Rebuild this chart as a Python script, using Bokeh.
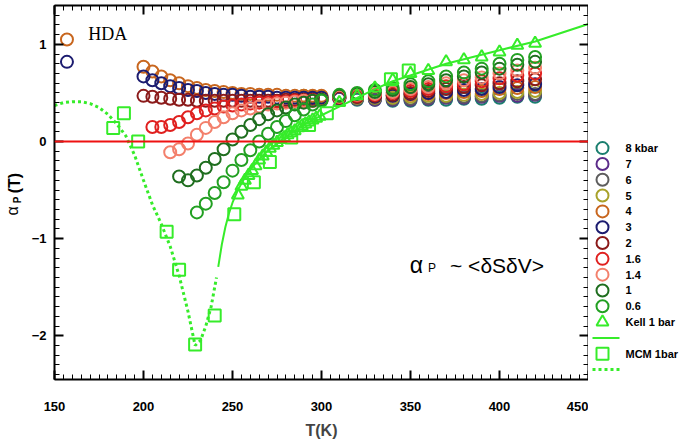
import math
from bokeh.plotting import figure
from bokeh.layouts import row
from bokeh.models import (Span, Label, LinearAxis, SingleIntervalTicker, Range1d,
                          CustomLabelingPolicy)
from bokeh.core.properties import value
from bokeh.embed import file_html
from bokeh.resources import INLINE

# ---------------- data ----------------
T_hi = [310, 320, 330, 340, 350, 360, 370, 380, 390, 400, 410, 420]

series = [
    # label, color, T list, alpha list
    ("8 kbar", "#1b7f6f", [290, 295, 300] + T_hi,
     [0.45, 0.45, 0.44, 0.44, 0.43, 0.43, 0.42, 0.42, 0.43, 0.43, 0.44, 0.44, 0.45, 0.46, 0.46]),
    ("7", "#5c2c8a", [290, 295, 300] + T_hi,
     [0.46, 0.45, 0.45, 0.44, 0.44, 0.43, 0.43, 0.43, 0.44, 0.45, 0.45, 0.46, 0.47, 0.47, 0.48]),
    ("6", "#5d5d5d", [290, 295, 300] + T_hi,
     [0.46, 0.46, 0.45, 0.45, 0.44, 0.44, 0.44, 0.44, 0.45, 0.46, 0.46, 0.47, 0.48, 0.49, 0.49]),
    ("5", "#a8a22a", [290, 295, 300] + T_hi,
     [0.47, 0.46, 0.46, 0.45, 0.45, 0.45, 0.45, 0.46, 0.47, 0.47, 0.48, 0.49, 0.50, 0.51, 0.52]),
    ("4", "#c8661e", [157, 200, 205, 210, 215, 220, 225, 230, 235, 240, 245, 250, 255, 260, 265,
                      270, 275, 280, 285, 290, 295, 300] + T_hi,
     [1.05, 0.77, 0.72, 0.67, 0.63, 0.60, 0.57, 0.55, 0.53, 0.52, 0.51, 0.50, 0.49, 0.49, 0.48,
      0.48, 0.48, 0.47, 0.47, 0.47, 0.47, 0.47,
      0.46, 0.46, 0.46, 0.47, 0.48, 0.49, 0.50, 0.51, 0.52, 0.54, 0.55, 0.56]),
    ("3", "#1c1c70", [157, 200, 205, 210, 215, 220, 225, 230, 235, 240, 245, 250, 255, 260, 265,
                      270, 275, 280, 285, 290, 295, 300] + T_hi,
     [0.82, 0.67, 0.63, 0.60, 0.57, 0.55, 0.53, 0.52, 0.50, 0.49, 0.48, 0.48, 0.47, 0.46, 0.46,
      0.46, 0.45, 0.45, 0.45, 0.45, 0.45, 0.45,
      0.45, 0.46, 0.46, 0.47, 0.49, 0.50, 0.51, 0.53, 0.54, 0.56, 0.58, 0.59]),
    ("2", "#8b1a1a", [200, 205, 210, 215, 220, 225, 230, 235, 240, 245, 250, 255, 260, 265,
                      270, 275, 280, 285, 290, 295, 300] + T_hi,
     [0.47, 0.46, 0.45, 0.44, 0.43, 0.43, 0.42, 0.42, 0.42, 0.42, 0.42, 0.42, 0.42, 0.42,
      0.42, 0.42, 0.43, 0.43, 0.43, 0.43, 0.43,
      0.45, 0.46, 0.47, 0.48, 0.50, 0.52, 0.54, 0.56, 0.58, 0.60, 0.62, 0.64]),
    ("1.6", "#e0201f", [205, 210, 215, 220, 225, 230, 235, 240, 245, 250, 255, 260, 265,
                        270, 275, 280, 285, 290, 295, 300] + T_hi,
     [0.15, 0.15, 0.17, 0.20, 0.25, 0.29, 0.32, 0.34, 0.36, 0.37, 0.38, 0.39, 0.40,
      0.40, 0.41, 0.41, 0.42, 0.42, 0.42, 0.43,
      0.46, 0.47, 0.48, 0.50, 0.52, 0.54, 0.57, 0.59, 0.62, 0.65, 0.68, 0.70]),
    ("1.4", "#f3806c", [215, 220, 225, 230, 235, 240, 245, 250, 255, 260, 265,
                        270, 275, 280, 285, 290, 295, 300] + T_hi,
     [-0.11, -0.08, -0.02, 0.07, 0.14, 0.20, 0.25, 0.29, 0.32, 0.34, 0.36,
      0.38, 0.39, 0.40, 0.41, 0.42, 0.42, 0.43,
      0.46, 0.48, 0.49, 0.51, 0.54, 0.56, 0.60, 0.63, 0.66, 0.70, 0.73, 0.76]),
    ("1", "#1f6e1f", [220, 225, 230, 235, 240, 245, 250, 255, 260, 265,
                      270, 275, 280, 285, 290, 295, 300] + T_hi,
     [-0.36, -0.40, -0.35, -0.27, -0.18, -0.08, 0.02, 0.10, 0.17, 0.23,
      0.28, 0.32, 0.35, 0.38, 0.40, 0.42, 0.43,
      0.47, 0.49, 0.51, 0.53, 0.56, 0.59, 0.63, 0.67, 0.71, 0.75, 0.79, 0.82]),
    ("0.6", "#22a022", [230, 235, 240, 245, 250, 255, 260, 265,
                        270, 275, 280, 285, 290, 295, 300] + T_hi,
     [-0.73, -0.64, -0.53, -0.42, -0.30, -0.19, -0.09, 0.00,
      0.08, 0.15, 0.21, 0.27, 0.33, 0.38, 0.42,
      0.48, 0.50, 0.53, 0.55, 0.59, 0.62, 0.67, 0.71, 0.75, 0.80, 0.84, 0.87]),
]

kell_T = [253, 255, 257, 259, 261, 263, 265, 267, 269, 271, 273, 275, 277, 279, 281, 283,
          285, 287, 289, 291, 293, 295, 297, 299] + T_hi
kell_a = [-0.55, -0.46, -0.40, -0.35, -0.30, -0.25, -0.19, -0.15, -0.11, -0.07, -0.04, -0.01,
          0.02, 0.04, 0.07, 0.09, 0.11, 0.14, 0.16, 0.18, 0.20, 0.22, 0.24, 0.26,
          0.40, 0.47, 0.55, 0.63, 0.70, 0.73, 0.82, 0.84, 0.87, 0.92, 0.99, 1.01]

kell_fit_T = [242, 244, 246, 248, 250, 253, 256, 260, 265, 270, 275, 280, 285, 290, 300,
              310, 320, 330, 340, 355, 370, 385, 400, 420, 450]
kell_fit_a = [-1.29, -1.06, -0.88, -0.74, -0.63, -0.50, -0.40, -0.29, -0.18, -0.09, -0.02,
              0.05, 0.11, 0.17, 0.27, 0.36, 0.45, 0.54, 0.62, 0.71, 0.80, 0.87, 0.94, 1.03, 1.21]

mcm_T = [183, 189, 197, 213, 220, 229, 240, 251, 262, 271, 283, 293, 303, 339, 349]
mcm_a = [0.14, 0.29, 0.00, -0.93, -1.32, -2.09, -1.79, -0.75, -0.42, -0.21, 0.04, 0.17,
         0.29, 0.64, 0.73]

mcm_fit_T = [150, 155, 160, 165, 170, 175, 180, 185, 190, 195, 200, 205, 210, 215, 220,
             225, 229, 232, 235, 238, 241]
mcm_fit_a = [0.37, 0.40, 0.41, 0.41, 0.39, 0.35, 0.28, 0.18, 0.06, -0.14, -0.40, -0.65,
             -0.85, -1.08, -1.38, -1.75, -2.10, -2.05, -1.90, -1.70, -1.40]

legend_extra = ["Kell 1 bar", "", "MCM 1bar", ""]
ylabel_parts = ["α", "P", "(T)"]
note_parts = ["α", "P", "~ <δSδV>"]

KELL_COLOR = "#36ec2a"
FONT = "Liberation Sans"
TOTAL_H = 441
TOP_B, BOT_B = 5, 61
LW, MW = 26, 562
RW = 685 - LW - MW

# ---------------- main figure ----------------
p = figure(width=MW, height=TOTAL_H, x_range=Range1d(150, 450), y_range=Range1d(-2.45, 1.40),
           output_backend="svg", toolbar_location=None,
           min_border_left=28, min_border_right=0, min_border_top=TOP_B,
           min_border_bottom=BOT_B)
p.xgrid.visible = False
p.ygrid.visible = False
p.outline_line_color = None

p.xaxis.ticker = SingleIntervalTicker(interval=50, num_minor_ticks=10)
p.yaxis.ticker = SingleIntervalTicker(interval=1, num_minor_ticks=10)

no_labels = CustomLabelingPolicy(code="return new Set()")


def style_axis(ax, show_labels):
    ax.axis_line_width = 2
    ax.axis_line_color = "black"
    ax.major_tick_in = 9
    ax.major_tick_out = 0
    ax.minor_tick_in = 5
    ax.minor_tick_out = 0
    ax.major_tick_line_width = 2
    ax.minor_tick_line_width = 1
    ax.major_tick_line_color = "black"
    ax.minor_tick_line_color = "black"
    if show_labels:
        ax.major_label_text_font = FONT
        ax.major_label_text_font_style = "bold"
        ax.major_label_text_font_size = "13px"
        ax.major_label_text_color = "black"
    else:
        ax.major_label_text_font_size = "0px"
        ax.major_label_standoff = 0
        ax.major_label_policy = no_labels


style_axis(p.xaxis[0], True)
style_axis(p.yaxis[0], True)
p.xaxis.major_label_standoff = 22
p.yaxis.major_label_standoff = 8
p.xaxis.axis_label = "T(K)"
p.xaxis.axis_label_text_font = FONT
p.xaxis.axis_label_text_font_style = "bold"
p.xaxis.axis_label_text_font_size = "16px"
p.xaxis.axis_label_standoff = 8

top_ax = LinearAxis(ticker=SingleIntervalTicker(interval=50, num_minor_ticks=10))
style_axis(top_ax, False)
p.add_layout(top_ax, "above")
right_ax = LinearAxis(ticker=SingleIntervalTicker(interval=1, num_minor_ticks=10))
style_axis(right_ax, False)
p.add_layout(right_ax, "right")

p.add_layout(Span(location=0, dimension="width", line_color="#ee1111", line_width=2))

for label, color, T, a in series:
    p.scatter(T, a, marker="circle", size=12, fill_color=None, line_color=color, line_width=2)

p.line(kell_fit_T, kell_fit_a, line_color=KELL_COLOR, line_width=2)
p.scatter(kell_T, kell_a, marker="triangle", size=12, fill_color=None,
          line_color=KELL_COLOR, line_width=2)
p.line(mcm_fit_T, mcm_fit_a, line_color=KELL_COLOR, line_width=3, line_dash="3 3")
p.scatter(mcm_T, mcm_a, marker="square", size=12, fill_color=None,
          line_color=KELL_COLOR, line_width=2)

p.add_layout(Label(x=169, y=1.11, text="HDA", text_font="Liberation Serif",
                   text_font_size="18px", text_align="left", text_baseline="middle",
                   text_color="black"))
p.add_layout(Label(x=349.6, y=-1.269, text=note_parts[0], text_font=FONT,
                   text_font_size="23px", text_align="left", text_baseline="alphabetic",
                   text_color="black"))
p.add_layout(Label(x=359.8, y=-1.30, text=note_parts[1], text_font=FONT,
                   text_font_size="12px", text_align="left", text_baseline="alphabetic",
                   text_color="black"))
p.add_layout(Label(x=372.2, y=-1.279, text=note_parts[2], text_font=FONT,
                   text_font_size="21px", text_align="left", text_baseline="alphabetic",
                   text_color="black"))

# ---------------- y label strip (left), y in page pixels ----------------
py = figure(width=LW, height=TOTAL_H, x_range=Range1d(0, LW),
            y_range=Range1d(TOTAL_H - BOT_B, TOP_B),
            output_backend="svg", toolbar_location=None, x_axis_type=None, y_axis_type=None,
            min_border_left=0, min_border_right=0, min_border_top=TOP_B,
            min_border_bottom=BOT_B)
py.outline_line_color = None
py.grid.visible = False
py.text(x=[12], y=[211], text=ylabel_parts[:1], angle=math.pi / 2,
        text_font=value(FONT), text_font_size="16px",
        text_align="center", text_baseline="middle", text_color="black")
py.text(x=[17], y=[200], text=ylabel_parts[1:2], angle=math.pi / 2,
        text_font=value(FONT), text_font_size="10px", text_font_style="bold",
        text_align="center", text_baseline="middle", text_color="black")
py.text(x=[14], y=[183], text=ylabel_parts[2:], angle=math.pi / 2,
        text_font=value(FONT), text_font_size="16px", text_font_style="bold",
        text_align="center", text_baseline="middle", text_color="black")

# ---------------- legend strip (right), y in page pixels ----------------
legend_labels = [s[0] for s in series] + legend_extra
n_rows = len(legend_labels)
row_top, row_step = 148, 15.86
row_y = [row_top + row_step * i for i in range(n_rows)]
pl = figure(width=RW, height=TOTAL_H, x_range=Range1d(0, RW),
            y_range=Range1d(TOTAL_H - BOT_B, TOP_B),
            output_backend="svg", toolbar_location=None, x_axis_type=None, y_axis_type=None,
            min_border_left=0, min_border_right=0, min_border_top=TOP_B,
            min_border_bottom=BOT_B)
pl.outline_line_color = None
pl.grid.visible = False
n_ser = len(series)
MX = 14
pl.scatter(x=[MX] * n_ser, y=row_y[:n_ser], marker="circle", size=12, fill_color=None,
           line_color=[s[1] for s in series], line_width=2)
pl.scatter(x=[MX], y=[row_y[n_ser]], marker="triangle", size=12, fill_color=None,
           line_color=KELL_COLOR, line_width=2)
pl.segment(x0=[4], y0=[row_y[n_ser + 1]], x1=[31], y1=[row_y[n_ser + 1]],
           line_color=KELL_COLOR, line_width=2)
pl.scatter(x=[MX], y=[row_y[n_ser + 2]], marker="square", size=12, fill_color=None,
           line_color=KELL_COLOR, line_width=2)
pl.segment(x0=[4], y0=[row_y[n_ser + 3]], x1=[31], y1=[row_y[n_ser + 3]],
           line_color=KELL_COLOR, line_width=3, line_dash="3 3")
pl.text(x=[37] * n_rows, y=row_y, text=legend_labels,
        text_font=value(FONT), text_font_style="bold", text_font_size="11px",
        text_baseline="middle", text_color="black")

layout = row(py, p, pl, spacing=0)
open("out.html", "w").write(file_html(layout, INLINE))
